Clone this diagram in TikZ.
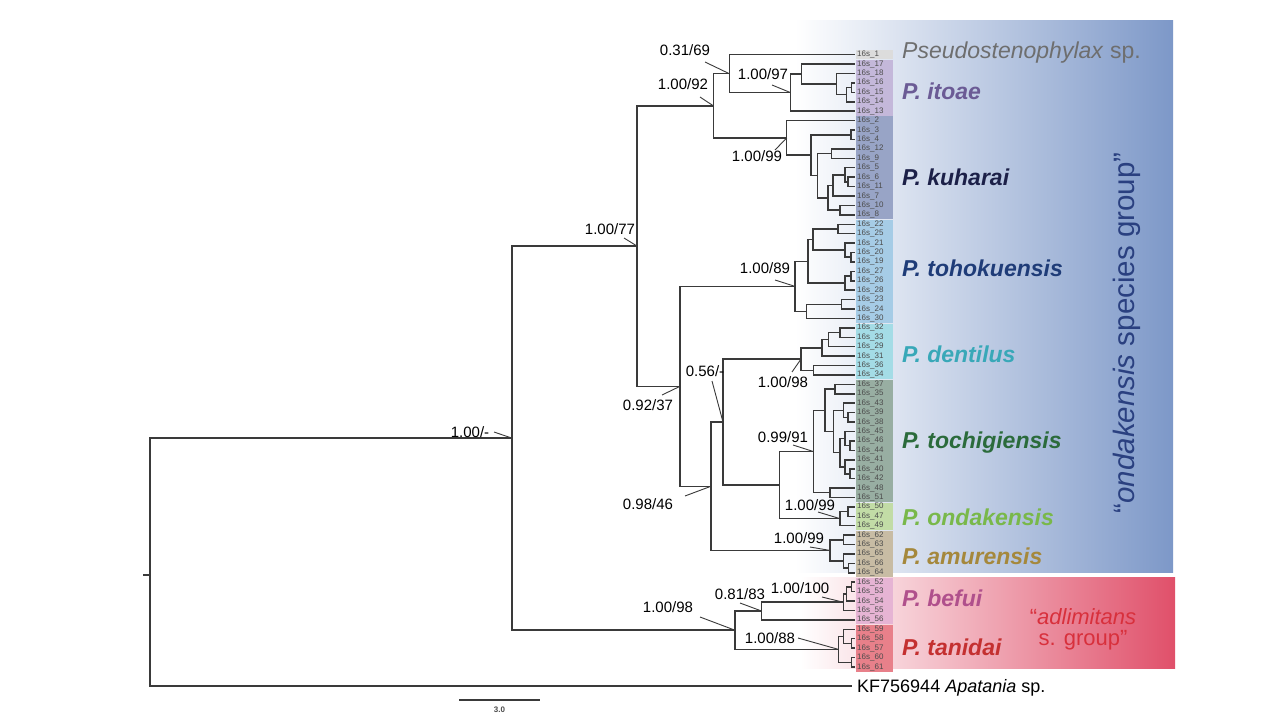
\documentclass[tikz,border=0pt]{standalone}
\usepackage{fontspec}
\setmainfont{Liberation Sans}
\usetikzlibrary{calc}
\definecolor{treec}{HTML}{3A3A3A}
\definecolor{boxblue}{HTML}{7D98C8}
\definecolor{boxred}{HTML}{E0506A}
\definecolor{cPs}{HTML}{6E6E6E}
\definecolor{cIt}{HTML}{6B5B95}
\definecolor{cKu}{HTML}{1C2048}
\definecolor{cTo}{HTML}{1F3C78}
\definecolor{cDe}{HTML}{38A8B8}
\definecolor{cTc}{HTML}{2B6B3B}
\definecolor{cOn}{HTML}{79B84A}
\definecolor{cAm}{HTML}{A5883C}
\definecolor{cBe}{HTML}{B0508C}
\definecolor{cTa}{HTML}{C43030}
\definecolor{cAd}{HTML}{D8303C}
\definecolor{cGr}{HTML}{2A4080}
\definecolor{sPs}{HTML}{DCDCDC}
\definecolor{sIt}{HTML}{C4B8DA}
\definecolor{sKu}{HTML}{98A4C6}
\definecolor{sTo}{HTML}{A6CCE6}
\definecolor{sDe}{HTML}{A4DCE6}
\definecolor{sTc}{HTML}{98AEA2}
\definecolor{sOn}{HTML}{C2DCA6}
\definecolor{sAm}{HTML}{C8BCA4}
\definecolor{sBe}{HTML}{E6B4D4}
\definecolor{sTa}{HTML}{E8808A}
\newcommand\bn[4]{%
  \coordinate (#1m) at ($(#3)!.5!(#4)$);
  \coordinate (#1) at (#1m -| #2,0);
  \draw[br] (#1) |- (#3) (#1) |- (#4);}
\newcommand\tk[3]{% label node name, start coord name, target
  \draw[tick] (#2) -- (#3);}
\begin{document}
\begin{tikzpicture}[x=1pt,y=-1pt,
  br/.style={draw=treec,line width=1.5pt},
  tick/.style={draw=treec,line width=0.9pt},
  tiplab/.style={anchor=west,inner sep=0pt,text=black!70,font=\fontsize{8}{8}\selectfont},
  bs/.style={inner sep=0pt,text=black,font=\fontsize{15}{15}\selectfont},
  sp/.style={anchor=west,inner sep=0pt,font=\fontsize{23}{23}\selectfont\bfseries\itshape},
  strip/.style={draw=none}]
\useasboundingbox (0,0) rectangle (1280,720);
\fill[white] (0,0) rectangle (1280,720);
% group boxes
\shade[left color=white,right color=boxblue,shading angle=90] (795,20) rectangle (1173,572);
\shade[left color=white,right color=boxred] (800,577) rectangle (1175,668);
% clade strips
\fill[sPs] (856,50.0) rectangle (893,59.0);
\fill[sIt] (856,59.8) rectangle (893,115.5);
\fill[sKu] (856,116.3) rectangle (893,219.1);
\fill[sTo] (856,219.9) rectangle (893,322.7);
\fill[sDe] (856,323.5) rectangle (893,379.2);
\fill[sTc] (856,380.0) rectangle (893,501.7);
\fill[sOn] (856,502.5) rectangle (893,530.0);
\fill[sAm] (856,530.8) rectangle (893,577.1);
\fill[sBe] (856,577.9) rectangle (893,624.2);
\fill[sTa] (856,625.0) rectangle (893,671.5);
% tips
\foreach \n [count=\i from 0] in {1,17,18,16,15,14,13,2,3,4,12,9,5,6,11,7,10,8,22,25,21,20,19,27,26,28,23,24,30,32,33,29,31,36,34,37,35,43,39,38,45,46,44,41,40,42,48,51,50,47,49,62,63,65,66,64,52,53,54,55,56,59,58,57,60,61}{
  \coordinate (t\n) at (855,{54.7+9.42*\i});
  \node[tiplab] (l\n) at ([xshift=2pt]t\n) {16s\_\n};
}
% itoae + Pseudostenophylax
\bn{I4}{851.7}{t16}{t15}
\bn{I3}{846.7}{I4}{t14}
\bn{I2}{836.7}{t18}{I3}
\bn{I1}{801.7}{t17}{I2}
\bn{I0}{790.7}{I1}{t13}
\bn{P}{729.3}{t1}{I0}
% kuharai
\bn{K34}{851}{t3}{t4}
\bn{K129}{831.7}{t12}{t9}
\bn{G}{848}{t6}{t11}
\bn{F}{845}{t5}{G}
\bn{Dk}{833}{F}{t7}
\bn{E}{840}{t10}{t8}
\bn{C}{828}{Dk}{E}
\bn{B}{817.7}{K129}{C}
\bn{A}{811}{K34}{B}
\bn{K0}{786.7}{t2}{A}
\bn{Q}{713.3}{P}{K0}
% tohokuensis
\bn{T2a}{838}{t22}{t25}
\bn{T3a}{851}{t20}{t19}
\bn{T3}{845}{t21}{T3a}
\bn{T2}{813}{T2a}{T3}
\bn{T4a}{851}{t27}{t26}
\bn{T4}{845}{T4a}{t28}
\bn{T1}{808}{T2}{T4}
\bn{T5a}{841.7}{t23}{t24}
\bn{T5}{806.7}{T5a}{t30}
\bn{T0}{795}{T1}{T5}
% dentilus
\bn{D3}{840}{t32}{t33}
\bn{D2}{828.3}{D3}{t29}
\bn{D1}{822}{D2}{t31}
\bn{D4}{813.3}{t36}{t34}
\bn{D0}{801}{D1}{D4}
% tochigiensis
\bn{Tc7}{835}{t37}{t35}
\bn{Tc8}{848}{t39}{t38}
\bn{Tc3}{843.3}{t43}{Tc8}
\bn{Tc9}{850}{t46}{t44}
\bn{Tc5}{845}{t45}{Tc9}
\bn{Tc10}{850}{t40}{t42}
\bn{Tc6}{845}{t41}{Tc10}
\bn{Tc4}{840}{Tc5}{Tc6}
\bn{Tc2}{833.3}{Tc3}{Tc4}
\bn{Tc1}{825}{Tc7}{Tc2}
\bn{Tc11}{830}{t48}{t51}
\bn{Tc0}{813.3}{Tc1}{Tc11}
% ondakensis
\bn{On1}{848}{t50}{t47}
\bn{On0}{840}{On1}{t49}
\bn{X}{779.3}{Tc0}{On0}
\bn{W}{723}{D0}{X}
% amurensis
\bn{Am2}{843.3}{t62}{t63}
\bn{Am3}{848.3}{t66}{t64}
\bn{Am1}{843.3}{t65}{Am3}
\bn{Am0}{830}{Am2}{Am1}
\bn{V}{711}{W}{Am0}
\bn{S}{680}{T0}{V}
\bn{R}{637}{Q}{S}
% adlimitans group
\bn{Be3}{851.7}{t52}{t53}
\bn{Be2}{846.7}{Be3}{t54}
\bn{Be1}{843.3}{Be2}{t55}
\bn{Be0}{761.7}{Be1}{t56}
\bn{Ta3}{851.7}{t58}{t57}
\bn{Ta1}{843.3}{t59}{Ta3}
\bn{Ta2}{851.7}{t60}{t61}
\bn{Ta0}{838.3}{Ta1}{Ta2}
\bn{Ad0}{735}{Be0}{Ta0}
\bn{N0}{512}{R}{Ad0}
% outgroup and root
\coordinate (apa) at (852,686);
\bn{Root}{150}{N0}{apa}
\coordinate (r0) at (143,575);
\coordinate (r1) at (150,575);
\draw[br] (r0) -- (r1);
\node[anchor=west,inner sep=0pt,font=\fontsize{18}{18}\selectfont] (apalab) at (857,688) {KF756944 \textit{Apatania} sp.};
% support values
\node[bs] (s1) at (685,50) {0.31/69};   \coordinate (s1a) at (705,62);  \tk{s1}{s1a}{P}
\node[bs] (s2) at (683,84) {1.00/92};   \coordinate (s2a) at (700,97);  \tk{s2}{s2a}{Q}
\node[bs] (s3) at (763,74) {1.00/97};   \coordinate (s3a) at (772,85);  \tk{s3}{s3a}{I0}
\node[bs] (s4) at (757,156) {1.00/99};  \coordinate (s4a) at (775,150); \tk{s4}{s4a}{K0}
\node[bs] (s5) at (610,229) {1.00/77};  \coordinate (s5a) at (624,238); \tk{s5}{s5a}{R}
\node[bs] (s6) at (765,268) {1.00/89};  \coordinate (s6a) at (775,280); \tk{s6}{s6a}{T0}
\node[bs] (s7) at (783,382) {1.00/98};  \coordinate (s7a) at (792,372); \tk{s7}{s7a}{D0}
\node[bs] (s8) at (648,405) {0.92/37};  \coordinate (s8a) at (662,395); \tk{s8}{s8a}{S}
\node[bs] (s9) at (705,371) {0.56/-};   \coordinate (s9a) at (712,381); \tk{s9}{s9a}{W}
\node[bs] (s10) at (783,437) {0.99/91}; \coordinate (s10a) at (793,445); \tk{s10}{s10a}{Tc0}
\node[bs] (s11) at (810,505) {1.00/99}; \coordinate (s11a) at (818,512); \tk{s11}{s11a}{On0}
\node[bs] (s12) at (799,538) {1.00/99}; \coordinate (s12a) at (810,547); \tk{s12}{s12a}{Am0}
\node[bs] (s13) at (648,504) {0.98/46}; \coordinate (s13a) at (685,496); \tk{s13}{s13a}{V}
\node[bs] (s14) at (470,432) {1.00/-};  \coordinate (s14a) at (494,432); \tk{s14}{s14a}{N0}
\node[bs] (s15) at (740,594) {0.81/83}; \coordinate (s15a) at (740,603); \tk{s15}{s15a}{Be0}
\node[bs] (s16) at (800,588) {1.00/100};\coordinate (s16a) at (822,597); \tk{s16}{s16a}{Be1}
\node[bs] (s17) at (770,638) {1.00/88}; \coordinate (s17a) at (798,638); \tk{s17}{s17a}{Ta0}
\node[bs] (s18) at (668,607) {1.00/98}; \coordinate (s18a) at (700,617); \tk{s18}{s18a}{Ad0}
% scale bar
\coordinate (sb1) at (459,700); \coordinate (sb2) at (540,700);
\draw[draw=treec,line width=1.2pt] (sb1) -- (sb2);
\node[inner sep=0pt,font=\fontsize{8}{8}\selectfont\bfseries,text=black!70] (sbl) at (499.5,710) {3.0};
% species labels
\node[anchor=west,inner sep=0pt,font=\fontsize{23}{23}\selectfont,text=cPs] (nPs) at (902,53) {\textit{Pseudostenophylax} sp.};
\node[sp,text=cIt] (nIt) at (902,91) {P. itoae};
\node[sp,text=cKu] (nKu) at (902,177) {P. kuharai};
\node[sp,text=cTo] (nTo) at (902,268) {P. tohokuensis};
\node[sp,text=cDe] (nDe) at (902,354) {P. dentilus};
\node[sp,text=cTc] (nTc) at (902,443) {P. tochigiensis};
\node[sp,text=cOn] (nOn) at (902,517) {P. ondakensis};
\node[sp,text=cAm] (nAm) at (902,556) {P. amurensis};
\node[sp,text=cBe] (nBe) at (902,598) {P. befui};
\node[sp,text=cTa] (nTa) at (902,647) {P. tanidai};
\node[align=center,inner sep=0pt,text=cAd,font=\fontsize{22}{21}\selectfont] (nAd) at (1083,629) {``\textit{adlimitans}\\s. group''};
\node[rotate=90,inner sep=0pt,text=cGr,font=\fontsize{29.5}{29.5}\selectfont] (nGr) at (1127,333) {``\textit{ondakensis} species group''};
\end{tikzpicture}
\end{document}
